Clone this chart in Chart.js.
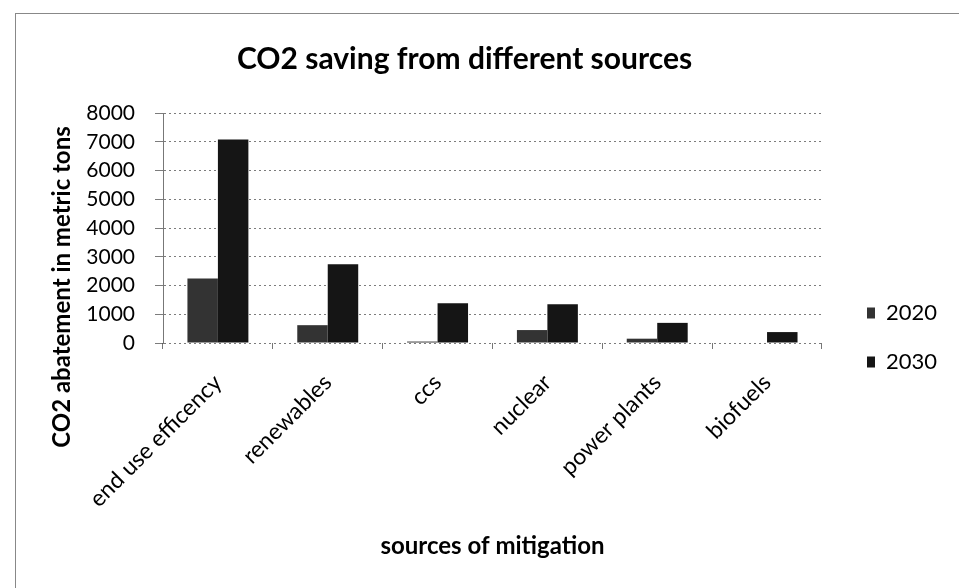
<!DOCTYPE html>
<html>
<head>
<meta charset="utf-8">
<script src="https://cdn.jsdelivr.net/npm/chart.js@4.4.1/dist/chart.umd.min.js"></script>
<style>
  html, body { margin: 0; padding: 0; background: #fff; }
  #wrap { position: relative; width: 959px; height: 588px; overflow: hidden; }
  #frame { position: absolute; left: 15px; top: 13px; width: 1000px; height: 700px;
           border-left: 1px solid #888; border-top: 1px solid #888; }
  #chart { position: absolute; left: 0; top: 0; }
</style>
</head>
<body>
<div id="wrap">
  <div id="frame"></div>
  <canvas id="chart" width="959" height="588"></canvas>
</div>
<script>
// categorias e valores
const categories = ["end use efficency", "renewables", "ccs", "nuclear", "power plants", "biofuels"];
const seriesNames = ["2020", "2030"];
const values2020 = [2240, 620, 50, 450, 150, 0];
const values2030 = [7080, 2740, 1380, 1350, 700, 380];
const yMin = 0;
const yMax = 8000;
const yStep = 1000;

const chartTitle = "CO2 saving from different sources";
const yTitle = "CO2 abatement in metric tons";
const xTitle = "sources of mitigation";

const fontFamily = "Lato";

// posiciona a legenda como no Excel (à direita, abaixo do meio)
const legendSpot = {
    id: "legendSpot",
    afterLayout(chart) {
        const lg = chart.legend;
        const w = lg.width;
        const h = lg.height;
        lg.left = 840;
        lg.right = lg.left + w;
        lg.top = 275;
        lg.bottom = lg.top + h;
    }
};

// título do eixo Y, deslocado para baixo como no original
const yTitleText = {
    id: "yTitleText",
    afterDraw(chart) {
        const c = chart.ctx;
        c.save();
        c.translate(62, 287);
        c.rotate(-Math.PI / 2);
        c.textAlign = "center";
        c.textBaseline = "middle";
        c.fillStyle = "#000";
        c.font = "bold 24px " + fontFamily;
        c.fillText(yTitle, 0, 0);
        c.restore();
    }
};

const ctx = document.getElementById("chart").getContext("2d");

new Chart(ctx, {
    type: "bar",
    data: {
        labels: categories,
        datasets: [
            {
                label: seriesNames[0],
                data: values2020,
                backgroundColor: "#333333",
                borderWidth: 0
            },
            {
                label: seriesNames[1],
                data: values2030,
                backgroundColor: "#151515",
                borderWidth: 0
            }
        ]
    },
    options: {
        responsive: false,
        animation: false,
        categoryPercentage: 0.555,
        barPercentage: 1.0,
        layout: {
            padding: { left: 0, right: 30, top: 0, bottom: 27 }
        },
        plugins: {
            title: {
                display: true,
                text: chartTitle,
                color: "#000",
                font: { family: fontFamily, size: 30, weight: "bold" },
                padding: { top: 41, bottom: 36 }
            },
            legend: {
                display: true,
                position: "right",
                align: "start",
                labels: {
                    color: "#000",
                    font: { family: fontFamily, size: 22 },
                    boxWidth: 8,
                    boxHeight: 11,
                    padding: 27
                }
            },
            tooltip: { enabled: false }
        },
        scales: {
            x: {
                grid: {
                    display: true,
                    drawOnChartArea: false,
                    drawTicks: true,
                    tickLength: 6,
                    offset: true,
                    color: "#777"
                },
                border: { display: false },
                ticks: {
                    color: "#000",
                    font: { family: fontFamily, size: 23 },
                    minRotation: 45,
                    maxRotation: 45,
                    autoSkip: false,
                    padding: 20
                },
                title: {
                    display: true,
                    text: xTitle,
                    color: "#000",
                    font: { family: fontFamily, size: 24, weight: "bold" },
                    padding: { top: 0, bottom: 0 }
                },
                afterFit(scale) {
                    scale.height = 218;
                }
            },
            y: {
                min: yMin,
                max: yMax,
                grid: {
                    color: "rgba(80,80,80,0.75)",
                    lineWidth: 1,
                    drawTicks: true,
                    tickLength: 8
                },
                border: { display: true, color: "#777", dash: [2, 3] },
                ticks: {
                    stepSize: yStep,
                    color: "#000",
                    font: { family: fontFamily, size: 21 },
                    padding: 20,
                    callback: (v) => String(v)
                },
                title: { display: false },
                afterFit(scale) {
                    scale.width = 163;
                }
            }
        }
    },
    plugins: [legendSpot, yTitleText]
});
</script>
</body>
</html>
